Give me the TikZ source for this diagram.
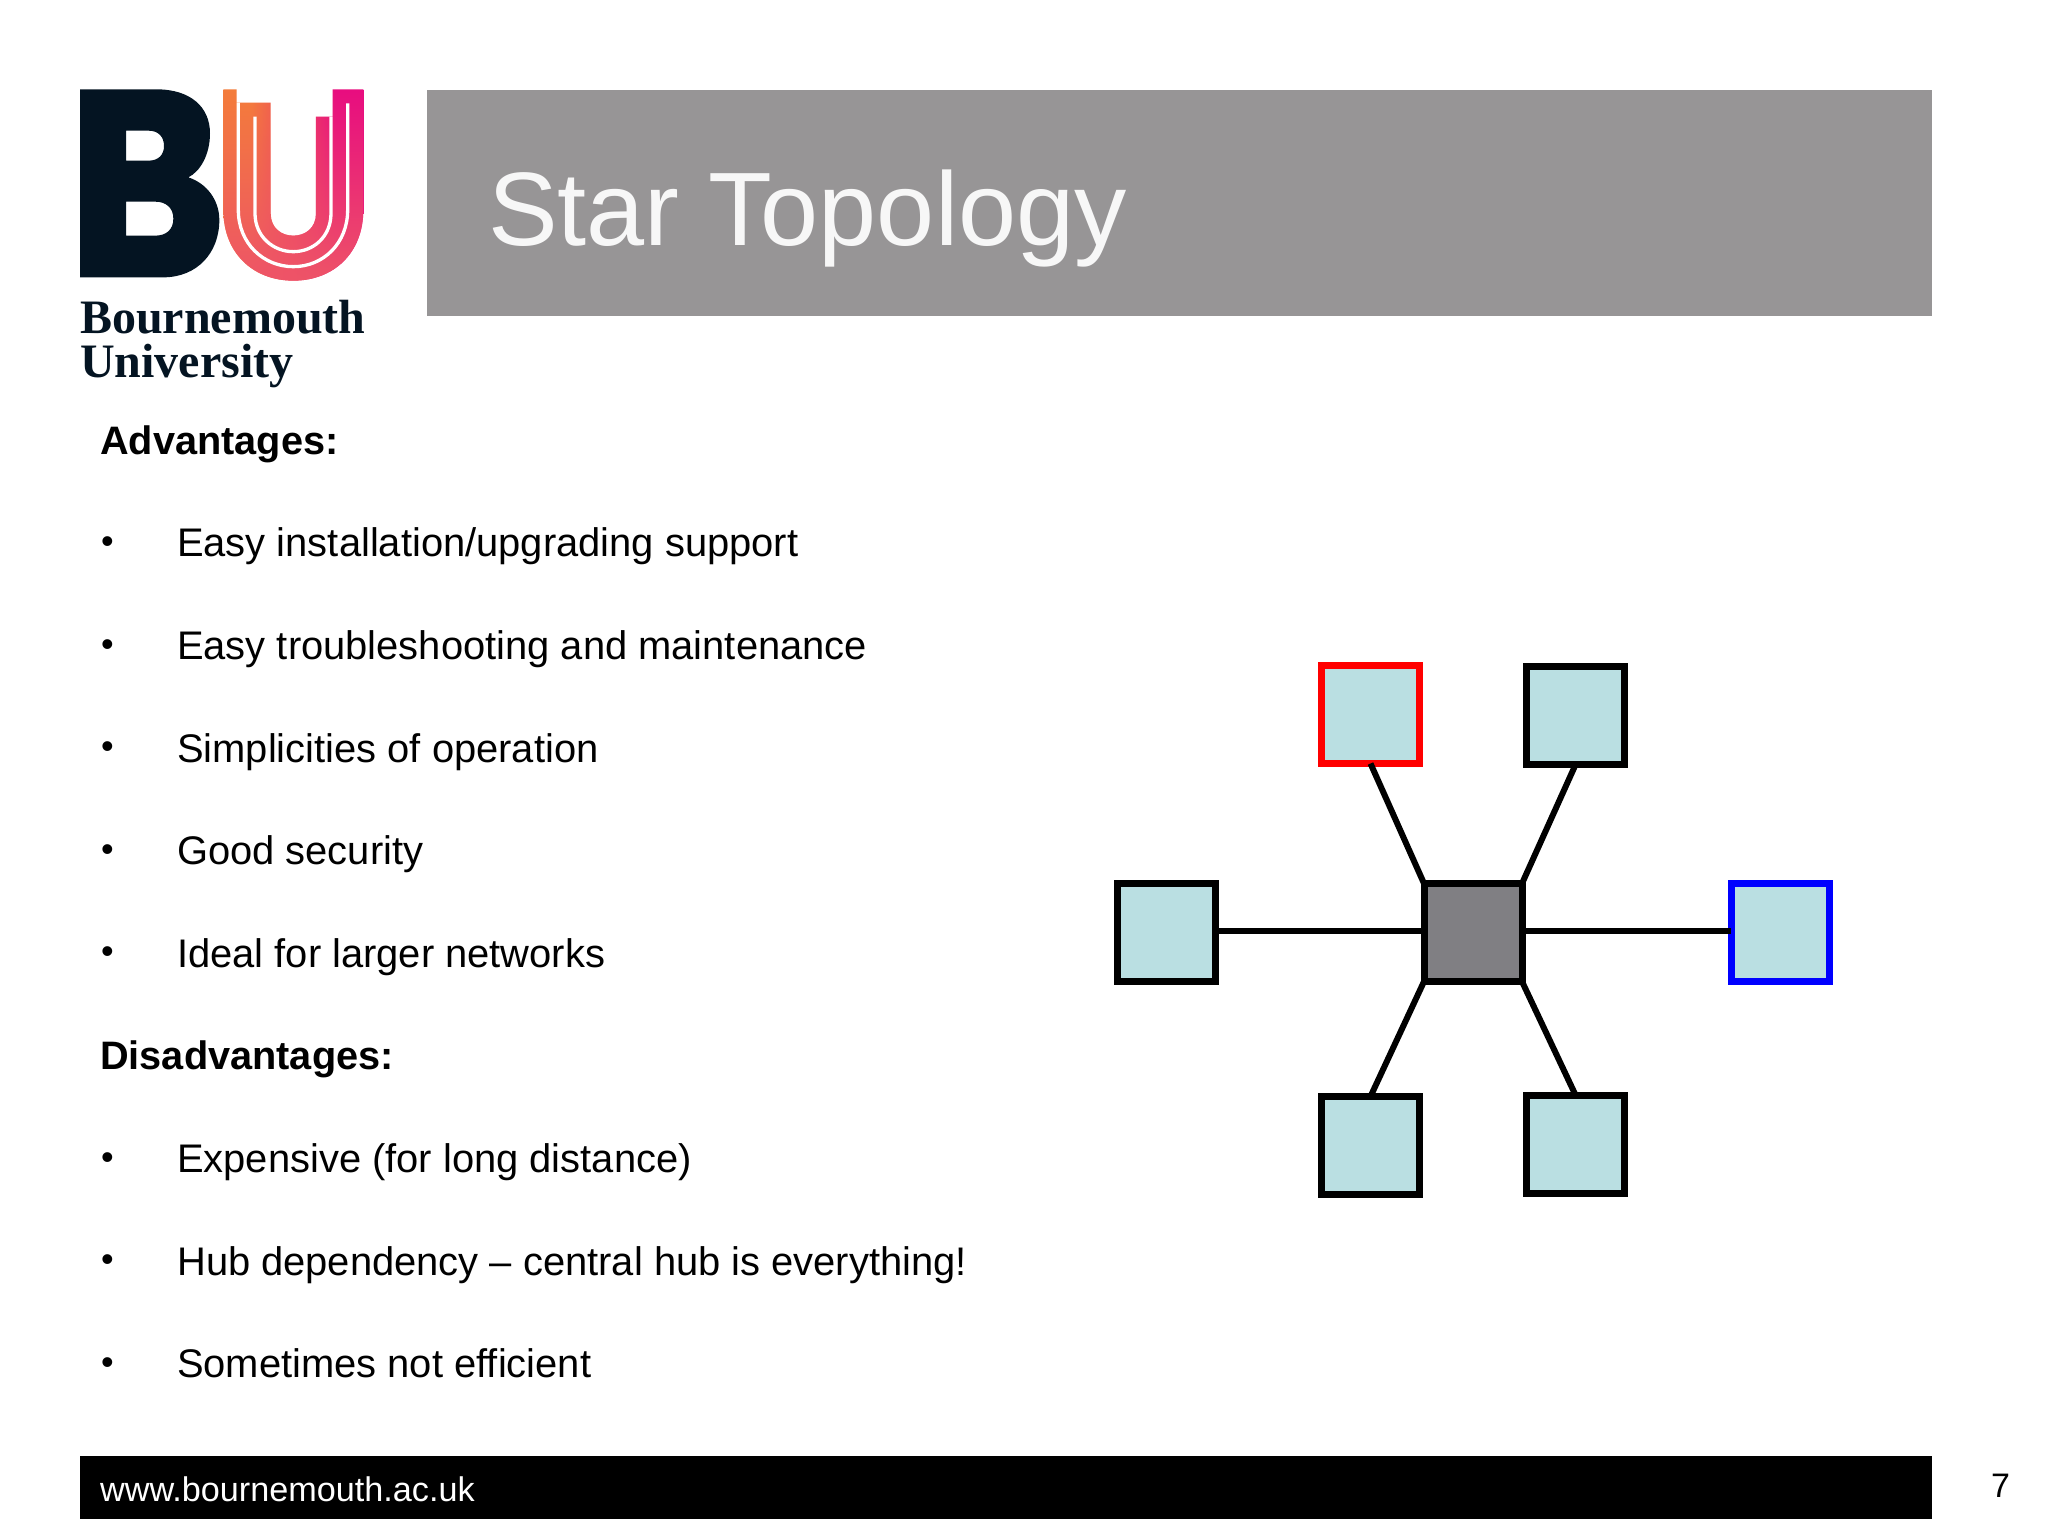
\documentclass[tikz,border=0pt]{standalone}
\usepackage{fontspec}
\setmainfont{Liberation Sans}
\newfontfamily\logofont{Liberation Serif}
\usetikzlibrary{fadings}
\definecolor{mynavy}{RGB}{4, 20, 34}
\definecolor{myorange}{RGB}{244, 125, 58}
\definecolor{mymagenta}{RGB}{232, 12, 128}
\definecolor{mycoral}{RGB}{238, 84, 104}
\definecolor{mygrey}{RGB}{151, 149, 150}
\definecolor{myhub}{RGB}{128, 127, 131}
\definecolor{myleaf}{RGB}{186, 223, 226}
\pgfdeclarehorizontalshading{logoshade}{100bp}{color(0bp)=(myorange); color(35bp)=(myorange); color(65bp)=(mymagenta); color(100bp)=(mymagenta)}
\tikzfading[name=lowfade, top color=transparent!100, middle color=transparent!65, bottom color=transparent!0]
\tikzset{
    every node/.style={inner sep=0pt},
    headtext/.style={anchor=base west, font=\fontsize{39.7}{48}\selectfont\bfseries},
    itemtext/.style={anchor=base west, font=\fontsize{39.9}{48}\selectfont},
    dotmark/.style={anchor=base west, font=\fontsize{36}{48}\selectfont},
    logotext/.style={anchor=base west, text=mynavy, font=\fontsize{48}{50}\selectfont\logofont\bfseries},
    leafbox/.style={draw=black, line width=7pt, fill=myleaf, outer sep=0pt, minimum size=98pt},
    hubbox/.style={leafbox, fill=myhub},
    link/.style={line width=6pt, black}
}

\begin{document}
\begin{tikzpicture}[x=1pt, y=-1pt]
    \useasboundingbox (0, 0) rectangle (2048, 1536);

    % logo
    \begin{scope}[shift={(60, 70)}, scale=1/3]
        \fill[mynavy, even odd rule] (60, 58) -- (290, 58)
            .. controls (390, 58) and (450, 110) .. (450, 190)
            .. controls (450, 255) and (420, 305) .. (385, 322)
            .. controls (440, 340) and (478, 390) .. (478, 450)
            .. controls (478, 550) and (410, 622) .. (310, 622)
            -- (60, 622) -- cycle
            (198, 182) -- (265, 182)
            .. controls (295, 182) and (312, 200) .. (312, 228)
            .. controls (312, 255) and (295, 272) .. (265, 272)
            -- (198, 272) -- cycle
            (198, 395) -- (285, 395)
            .. controls (320, 395) and (340, 415) .. (340, 446)
            .. controls (340, 478) and (320, 497) .. (285, 497)
            -- (198, 497) -- cycle;
        \begin{scope}
            \clip (490, 58) -- (530, 58) -- (530, 98) -- (632, 98) -- (632, 430)
                .. controls (632, 475) and (665, 497) .. (700, 497)
                .. controls (735, 497) and (768, 475) .. (768, 430)
                -- (768, 140) -- (818, 140) -- (818, 58) -- (910, 58) -- (910, 420)
                .. controls (910, 550) and (820, 632) .. (700, 632)
                .. controls (580, 632) and (490, 550) .. (490, 420) -- cycle;
            \shade[shading=logoshade] (490, 50) rectangle (910, 640);
            \fill[mycoral, path fading=lowfade] (480, 50) rectangle (920, 640);
        \end{scope}
        \draw[white, line width=3.3pt] (535, 98) -- (535, 420)
            .. controls (535, 520) and (610, 590) .. (700, 590)
            .. controls (790, 590) and (863, 520) .. (863, 420) -- (863, 100);
        \draw[white, line width=3.3pt] (585, 140) -- (585, 430)
            .. controls (585, 500) and (640, 545) .. (700, 545)
            .. controls (760, 545) and (813, 500) .. (813, 430) -- (813, 140);
    \end{scope}
    \node[logotext] (logoa) at (80, 333) {Bournemouth};
    \node[logotext] (logob) at (80, 377) {University};

    % title
    \fill[mygrey] (427, 90) rectangle (1932, 316);
    \node[anchor=base west, text=white!97!black, font=\fontsize{104.4}{110}\selectfont] (title) at (488, 245) {Star Topology};

    % advantages
    \node[headtext] (adv) at (100, 454) {Advantages:};
    \node[dotmark] (da) at (101, 553) {•};
    \node[itemtext] (ia) at (177, 556.7) {Easy installation/upgrading support};
    \node[dotmark] (db) at (101, 656) {•};
    \node[itemtext] (ib) at (177, 659.3) {Easy troubleshooting and maintenance};
    \node[dotmark] (dc) at (101, 758) {•};
    \node[itemtext] (ic) at (177, 762) {Simplicities of operation};
    \node[dotmark] (dd) at (101, 861) {•};
    \node[itemtext] (id) at (177, 864.6) {Good security};
    \node[dotmark] (de) at (101, 963) {•};
    \node[itemtext] (ie) at (177, 967.2) {Ideal for larger networks};

    % disadvantages
    \node[headtext] (dis) at (100, 1069.8) {Disadvantages:};
    \node[dotmark] (df) at (101, 1169) {•};
    \node[itemtext] (if) at (177, 1172.4) {Expensive (for long distance)};
    \node[dotmark] (dg) at (101, 1271) {•};
    \node[itemtext] (ig) at (177, 1275) {Hub dependency – central hub is everything!};
    \node[dotmark] (dh) at (101, 1374) {•};
    \node[itemtext] (ih) at (177, 1377.6) {Sometimes not efficient};

    % star
    \node[hubbox] (hub) at (1473, 932.5) {};
    \node[leafbox] (left) at (1166, 932.5) {};
    \node[leafbox, draw=blue] (right) at (1780, 932.5) {};
    \node[leafbox, draw=red] (topa) at (1370.5, 714.5) {};
    \node[leafbox] (topb) at (1575.5, 715.7) {};
    \node[leafbox] (bota) at (1370.5, 1145.5) {};
    \node[leafbox] (botb) at (1575.5, 1144) {};

    \draw[link] ([yshift=2pt]hub.west) -- ([yshift=2pt]left.east);
    \draw[link] ([yshift=2pt]hub.east) -- ([yshift=2pt]right.west);
    \draw[link] (hub.north west) -- (topa.south);
    \draw[link] (hub.north east) -- (topb.south);
    \draw[link] (hub.south west) -- (bota.north);
    \draw[link] (hub.south east) -- (botb.north);

    % footer
    \fill[black] (80, 1456) rectangle (1932, 1519);
    \node[anchor=base west, text=white, font=\fontsize{34.2}{40}\selectfont] (web) at (100, 1501.5) {www.bournemouth.ac.uk};
    \node[anchor=base west, font=\fontsize{34}{40}\selectfont] (page) at (1991, 1497) {7};
\end{tikzpicture}
\end{document}
